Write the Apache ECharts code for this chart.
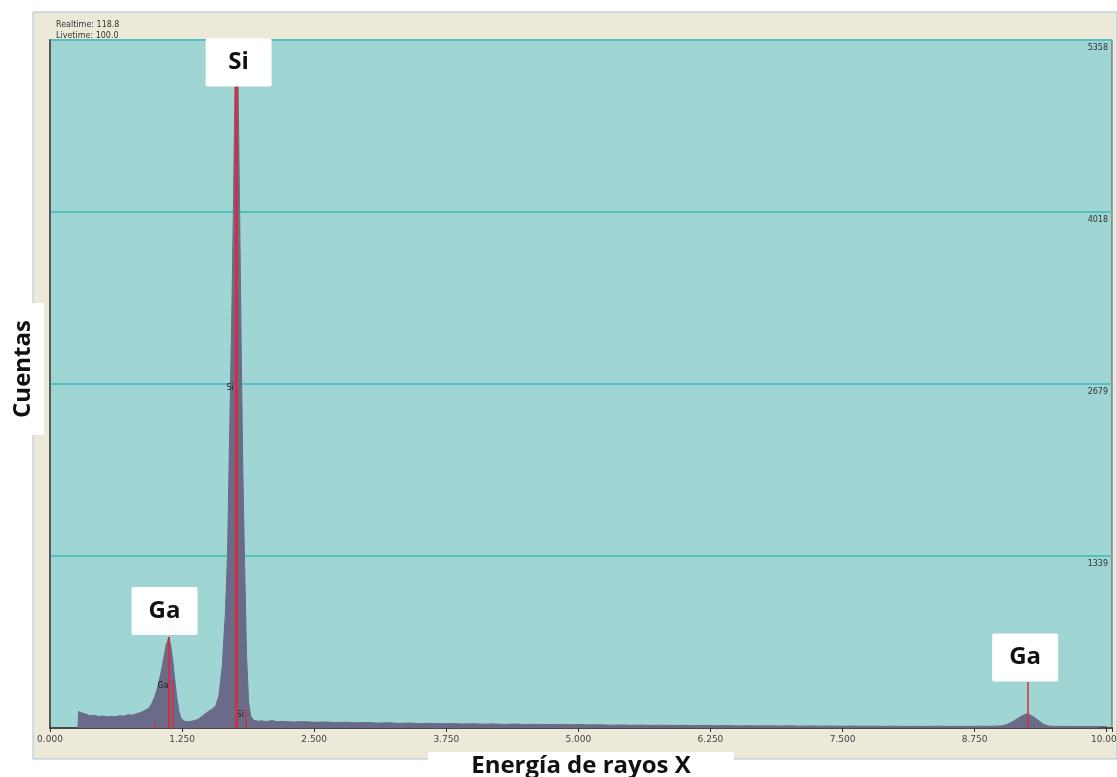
<!DOCTYPE html>
<html>
<head>
<meta charset="utf-8">
<script src="https://cdn.jsdelivr.net/npm/echarts@6/dist/echarts.min.js"></script>
<style>
html,body{margin:0;padding:0;background:#ffffff;}
#chart{width:1117px;height:777px;}
</style>
</head>
<body>
<div id="chart"></div>
<script>
// ---- data ----
const xTickLabels = ['0.000','1.250','2.500','3.750','5.000','6.250','7.500','8.750','10.000'];
const yTickLabels = ['1339','2679','4018','5358'];

const energies = [
  0.265,0.27,0.30,0.34,0.38,0.42,0.46,0.50,0.54,0.58,0.62,0.66,0.70,0.74,0.78,0.82,0.86,0.90,0.93,0.96,0.99,
  1.02,1.05,1.08,1.10,1.12,1.14,1.16,1.18,1.20,1.22,1.24,1.27,1.30,1.34,1.38,1.42,1.46,1.50,1.54,1.57,
  1.60,1.63,1.66,1.68,1.70,1.72,1.735,1.75,1.765,1.78,1.795,1.81,1.825,1.84,1.86,1.88,1.90,1.93,1.97,
  2.00,2.05,2.10,2.15,2.20,2.30,2.40,2.50,2.60,2.70,2.80,2.90,3.00,3.10,3.20,3.30,3.40,3.50,3.60,3.70,3.80,3.90,
  4.00,4.10,4.20,4.30,4.40,4.50,4.60,4.70,4.80,4.90,5.00,5.10,5.20,5.30,5.40,5.50,5.60,5.70,5.80,5.90,
  6.00,6.10,6.20,6.30,6.40,6.50,6.60,6.70,6.80,6.90,7.00,7.10,7.20,7.30,7.40,7.50,7.60,7.70,7.80,7.90,
  8.00,8.10,8.20,8.30,8.40,8.50,8.60,8.70,8.80,8.90,9.00,9.05,9.10,9.15,9.20,9.25,9.28,9.32,9.36,9.40,9.45,
  9.50,9.60,9.70,9.80,9.90,10.00
];
const counts = [
  0,128,118,108,96,100,90,94,86,92,88,96,92,104,100,112,120,138,150,185,240,
  320,430,560,650,695,660,540,380,240,130,75,55,48,52,60,78,105,130,150,175,
  260,480,900,1350,2300,3200,4000,5000,5300,5000,4000,2900,2000,1350,560,200,90,60,52,
  56,50,58,48,52,46,50,44,47,42,45,40,43,38,41,36,39,34,37,33,35,31,
  33,30,32,28,31,27,29,26,28,25,27,24,25,22,24,21,23,20,22,19,
  21,18,20,17,19,16,18,16,17,15,17,14,16,14,15,13,15,13,14,12,
  14,12,13,12,14,12,13,12,14,13,16,25,45,70,95,112,100,80,55,30,16,
  12,13,11,12,11,12
];

// element marker lines (energy, top count)
const markerEnergies = [1.12, 1.165, 0.994, 1.765, 1.856, 9.25];
const markerHeights  = [709, 374, 40, 5300, 140, 358];
const markerWidths   = [2, 1.5, 1.5, 3, 1.5, 1.5];

// big element labels (name, energy, count)
const peakNames    = ['Si', 'Ga', 'Ga'];
const peakEnergies = [1.785, 1.084, 9.228];
const peakCounts   = [5183, 911, 549];

// small in-plot marker labels
const smallNames    = ['Ga', 'Si', 'Si'];
const smallEnergies = [1.07, 1.705, 1.80];
const smallCounts   = [327, 2648, 101];

const yMax = 5358;
const yStep = 1339.5;

// ---- chart ----
const chart = echarts.init(document.getElementById('chart'));
const spectrum = energies.map((e, i) => [e, counts[i]]);
const markLines = markerEnergies.map((e, i) => [
  {coord: [e, 0], lineStyle: {width: markerWidths[i]}},
  {coord: [e, markerHeights[i]]}
]);

chart.setOption({
  animation: false,
  backgroundColor: '#ffffff',
  graphic: [
    {type: 'rect', z: -10, shape: {x: 33, y: 12, width: 1084, height: 747},
     style: {fill: '#ece9d9', stroke: '#a9c3dc', lineWidth: 1}},
    {type: 'rect', z: 10, shape: {x: 0, y: 303, width: 44, height: 132}, style: {fill: '#ffffff'}},
    {type: 'text', z: 11, x: 23, y: 369, rotation: Math.PI / 2,
     style: {text: 'Cuentas', fill: '#111', font: 'bold 24px "Open Sans"', align: 'center', verticalAlign: 'middle'}}
  ],
  title: {
    text: 'Realtime: 118.8\nLivetime: 100.0',
    left: 51, top: 14,
    textStyle: {fontSize: 8, fontWeight: 'normal', color: '#333', lineHeight: 11, fontFamily: 'DejaVu Sans'}
  },
  grid: {left: 50, right: 5, top: 40, bottom: 49, show: true, containLabel: false, outerBoundsMode: 'none',
         backgroundColor: '#9fd5d3', borderColor: '#555', borderWidth: 1},
  xAxis: [{
    type: 'value', min: 0, max: 10.05, interval: 1.25,
    name: 'Energía de rayos X', nameLocation: 'middle', nameGap: 24,
    nameTextStyle: {fontFamily: 'Open Sans', fontWeight: 'bold', fontSize: 24, color: '#111',
                    backgroundColor: '#ffffff', padding: [0, 43, 4, 43], lineHeight: 28},
    axisLine: {show: true, lineStyle: {color: '#4a4a4a', width: 2}},
    axisTick: {show: true, length: 4, lineStyle: {color: '#333'}},
    axisLabel: {show: true, margin: 7, fontSize: 9, color: '#444', fontFamily: 'DejaVu Sans',
                showMaxLabel: false,
                formatter: v => { const i = Math.round(v / 1.25); return Math.abs(v - i * 1.25) < 1e-6 ? xTickLabels[i] : ''; }},
    splitLine: {show: false}
  }, {
    type: 'value', position: 'top', min: 0, max: 10.05, interval: 1.25,
    axisLine: {show: false},
    axisTick: {show: true, inside: true, length: 4, lineStyle: {color: '#333'}},
    axisLabel: {show: false}, splitLine: {show: false}
  }],
  yAxis: [{
    type: 'value', position: 'right', min: 0, max: yMax, interval: yStep,
    axisLine: {show: true, lineStyle: {color: '#555', width: 1.5}},
    axisTick: {show: false},
    axisLabel: {show: true, inside: true, margin: 4, verticalAlign: 'top', padding: [4, 0, 0, 0],
                fontSize: 8, color: '#333', fontFamily: 'DejaVu Sans',
                formatter: v => { const i = Math.round(v / yStep) - 1; return i >= 0 ? yTickLabels[i] : ''; }},
    splitLine: {show: true, lineStyle: {color: '#55bfbf', width: 2}}
  }, {
    type: 'value', position: 'left', min: 0, max: yMax,
    axisLine: {show: true, lineStyle: {color: '#555', width: 1.5}},
    axisTick: {show: false}, axisLabel: {show: false}, splitLine: {show: false}
  }],
  series: [{
    type: 'line', name: 'spectrum', data: spectrum, symbol: 'none',
    lineStyle: {color: '#6a6a89', width: 1},
    areaStyle: {color: '#6a6a89', opacity: 1},
    z: 2,
    markLine: {
      silent: true, symbol: ['none', 'none'], label: {show: false},
      lineStyle: {color: '#d1303f', type: 'solid', width: 2},
      data: markLines
    }
  }, {
    type: 'scatter', name: 'small', z: 4,
    data: smallNames.map((n, i) => ({name: n, value: [smallEnergies[i], smallCounts[i]]})),
    symbolSize: 0.1, itemStyle: {color: 'rgba(0,0,0,0)', opacity: 1},
    label: {show: true, position: 'inside', formatter: p => p.name, fontSize: 8, color: '#222', fontFamily: 'DejaVu Sans'}
  }, {
    type: 'scatter', name: 'labels', z: 5, clip: false,
    data: peakNames.map((n, i) => ({name: n, value: [peakEnergies[i], peakCounts[i]]})),
    symbolSize: 0.1, itemStyle: {color: 'rgba(0,0,0,0)', opacity: 1},
    label: {show: true, position: 'inside', formatter: p => p.name,
            fontFamily: 'Open Sans', fontWeight: 'bold', fontSize: 24, color: '#111',
            backgroundColor: '#ffffff', width: 66, height: 48, lineHeight: 48, align: 'center', verticalAlign: 'middle',
            borderRadius: 2}
  }]
});
</script>
</body>
</html>
